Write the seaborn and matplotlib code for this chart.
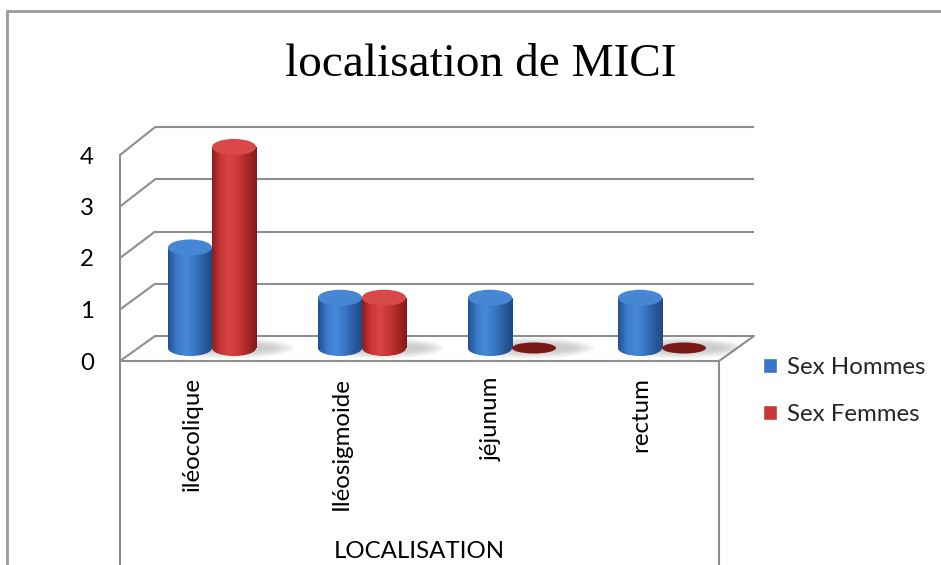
import numpy as np
import pandas as pd
import matplotlib
matplotlib.use('Agg')
import matplotlib.pyplot as plt
import seaborn as sns
from matplotlib.patches import Rectangle, Ellipse
from matplotlib.colors import LinearSegmentedColormap

# ---------------- data ----------------
categories = ['iléocolique', 'Iléosigmoide', 'jéjunum', 'rectum']
hommes = [2, 1, 1, 1]
femmes = [4, 1, 0, 0]
series_names = ['Sex Hommes', 'Sex Femmes']
y_ticks = [0, 1, 2, 3, 4]
title = 'localisation de MICI'
x_title = 'LOCALISATION'

df = pd.DataFrame({
    'loc': categories * 2,
    'val': hommes + femmes,
    'sex': [series_names[0]] * len(categories) + [series_names[1]] * len(categories),
})

sns.set_theme(style='white')
plt.rcParams['font.family'] = ['Lato', 'DejaVu Sans']
FS = 17.3

W, H = 941, 565
fig = plt.figure(figsize=(W / 100, H / 100), dpi=100)
fig.patch.set_facecolor('white')

# ---------------- 3D frame decoration (pixel coordinates) ----------------
axd = fig.add_axes([0, 0, 1, 1], zorder=0)
axd.set_xlim(0, W)
axd.set_ylim(H, 0)
axd.axis('off')

border_c = '#9a9a9a'
grid_c = '#8e8e8e'
lw = 1.5
axd.plot([7, 7], [H, 11], color=border_c, lw=2)
axd.plot([7, W], [11, 11], color=border_c, lw=2)

fx0, fx1 = 120, 719
dx = 35
y0_front, unit_front = 361, 51.5
y0_back, unit_back = 336, 52.2
for v in y_ticks:
    yb = y0_back - unit_back * v
    yf = y0_front - unit_front * v
    axd.plot([fx0 + dx, fx1 + dx], [yb, yb], color=grid_c, lw=lw, solid_capstyle='butt')
    axd.plot([fx0, fx0 + dx], [yf, yb], color=grid_c, lw=lw)
    axd.text(87, yf + 2, str(v), ha='center', va='center', fontsize=FS, color='black')

# floor front edge, right side and category box
axd.plot([fx0, fx1], [y0_front, y0_front], color=grid_c, lw=lw)
axd.plot([fx1, fx1 + dx], [y0_front, y0_back], color=grid_c, lw=lw)
axd.plot([fx0, fx0], [y0_front - unit_front * y_ticks[-1], H], color=grid_c, lw=lw)
axd.plot([fx1, fx1], [y0_front, H], color=grid_c, lw=lw)

# category labels
step = (fx1 - fx0) / len(categories)
for i, c in enumerate(categories):
    axd.text(fx0 + step * (i + 0.5) - 3, 377, c, rotation=90, ha='center', va='top',
             fontsize=FS, color='black')

axd.text((fx0 + fx1) / 2, 552, x_title, ha='center', va='center', fontsize=FS, color='black')
axd.text(481, 76, title, ha='center', va='baseline', fontsize=34,
         family=['Liberation Serif', 'DejaVu Serif'], color='black')

# ---------------- bars (seaborn) ----------------
blue, red = '#3a76c6', '#c83838'
upp = 201 / 4.0  # pixels per unit
y_lo, y_hi = -0.5, 4.5
bottom_px = 348 + (0 - y_lo) * upp
height_px = (y_hi - y_lo) * upp
axb = fig.add_axes([137 / W, 1 - bottom_px / H, 600 / W, height_px / H], zorder=2)
axb.patch.set_alpha(0)

sns.barplot(data=df, x='loc', y='val', hue='sex', palette=[blue, red], width=0.587,
            saturation=1, ax=axb, errorbar=None)

cmaps = [
    LinearSegmentedColormap.from_list('cb', ['#21508f', '#3b7bcc', '#4789d6', '#3877c6', '#2a5c9f', '#1f4a85']),
    LinearSegmentedColormap.from_list('cr', ['#8c1d1d', '#c93737', '#d84545', '#c93636', '#a82828', '#801919']),
]
top_c = ['#4686d3', '#d84848']
flat_c = ['#1f4c8a', '#7b1818']
grad = np.linspace(0, 1, 256).reshape(1, -1)
e_h = 0.32

# soft floor shadows per category
for i in range(len(categories)):
    for j in range(6):
        axb.add_patch(Ellipse((i + 0.12, 0.0), 0.587 * (1.45 - 0.09 * j), 0.42 - 0.05 * j,
                              facecolor='#7a7a7a', edgecolor='none', alpha=0.07, zorder=2.5))

for k, cont in enumerate(axb.containers):
    for bar in cont:
        x, w, h = bar.get_x(), bar.get_width(), bar.get_height()
        cx = x + w / 2
        bar.set_visible(False)
        if h <= 0:
            axb.add_patch(Ellipse((cx, 0), w, 0.22, facecolor=flat_c[k], edgecolor='none', zorder=3))
            continue
        clip_r = Rectangle((x, 0), w, h, transform=axb.transData)
        clip_e = Ellipse((cx, 0), w, e_h, transform=axb.transData)
        for clip in (clip_r, clip_e):
            im = axb.imshow(grad, extent=[x, x + w, -e_h, h], aspect='auto', cmap=cmaps[k],
                            interpolation='bicubic', zorder=3)
            im.set_clip_path(clip)
        axb.add_patch(Ellipse((cx, h), w, e_h, facecolor=top_c[k], edgecolor='none', zorder=4))

axb.set_xlim(-0.5, len(categories) - 0.5)
axb.set_ylim(y_lo, y_hi)
axb.axis('off')

sns.move_legend(axb, 'center left', bbox_to_anchor=(763 / W, 1 - 391 / H),
                bbox_transform=fig.transFigure, frameon=False, title=None, fontsize=FS,
                handlelength=0.6, handleheight=0.6, handletextpad=0.4,
                labelspacing=1.1, borderpad=0, borderaxespad=0)

fig.savefig('out.png', dpi=100, facecolor='white')
